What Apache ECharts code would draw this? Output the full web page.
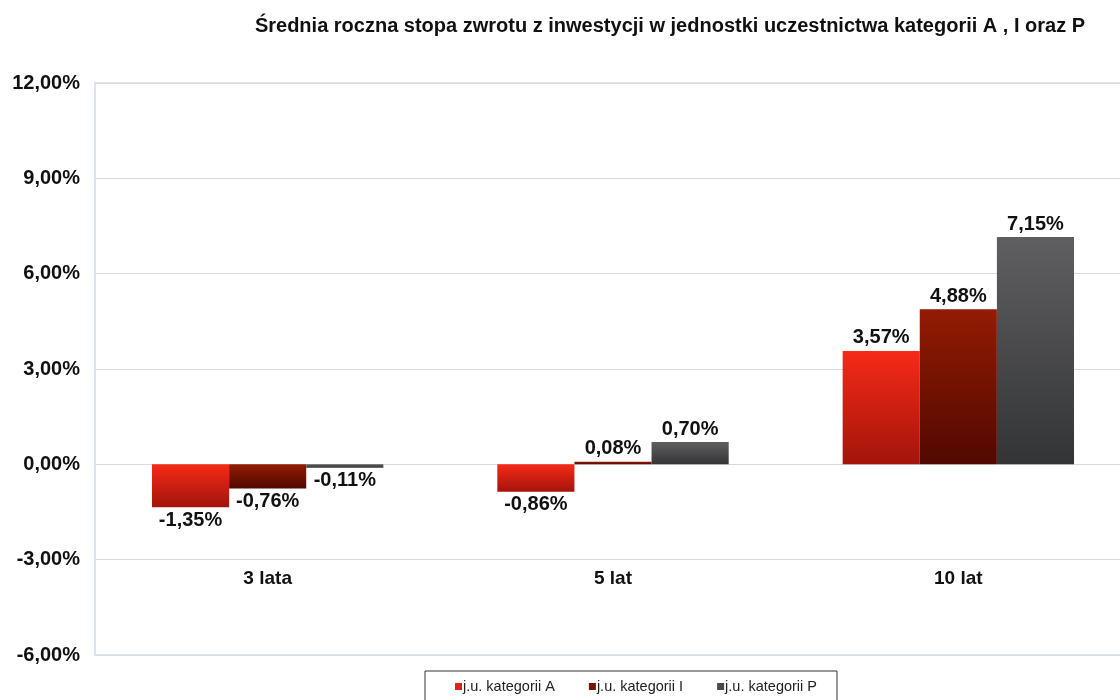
<!DOCTYPE html>
<html>
<head>
<meta charset="utf-8">
<script src="https://cdn.jsdelivr.net/npm/echarts@6/dist/echarts.min.js"></script>
<style>
  html, body { margin: 0; padding: 0; background: #fff; overflow: hidden; }
  #main { width: 1134px; height: 700px; }
</style>
</head>
<body>
<div id="main"></div>
<script>
const categories = ['3 lata', '5 lat', '10 lat']
const seriesNames = ['j.u. kategorii A', 'j.u. kategorii I', 'j.u. kategorii P']
const valuesA = [-1.35, -0.86, 3.57]
const valuesI = [-0.76, 0.08, 4.88]
const valuesP = [-0.11, 0.70, 7.15]

const fmt = v => v.toFixed(2).replace('.', ',') + '%'

const grad = (top, bottom) => new echarts.graphic.LinearGradient(0, 0, 0, 1, [
    {offset: 0, color: top},
    {offset: 1, color: bottom}
])

const styles = [
    {top: '#f62a18', bottom: '#a3140a', legend: '#e8201a'},
    {top: '#921c02', bottom: '#520800', legend: '#7a1400'},
    {top: '#5f5f61', bottom: '#333436', legend: '#4a4a4c'}
]

// wykres jest szerszy niz okno - prawa krawedz ucieta jak w oryginale
let myChart = echarts.init(document.getElementById('main'))

const makeSeries = (name, data, st) => ({
    name: name,
    type: 'bar',
    barGap: '0%',
    barCategoryGap: '33%',
    itemStyle: {color: grad(st.top, st.bottom)},
    data: data.map(v => ({
        value: v,
        label: {position: v < 0 ? 'bottom' : 'top'}
    })),
    label: {
        show: true,
        formatter: p => fmt(p.value),
        fontFamily: 'Liberation Sans, Arial',
        fontWeight: 'bold',
        fontSize: 20,
        color: '#111',
        distance: 3
    }
})

let option = {
    backgroundColor: '#fff',
    animation: false,
    title: {
        text: 'Średnia roczna stopa zwrotu z inwestycji w jednostki uczestnictwa kategorii A , I oraz P',
        left: 665,
        textAlign: 'center',
        top: 11,
        textStyle: {
            fontFamily: 'Liberation Sans, Arial',
            fontWeight: 'bold',
            fontSize: 20,
            color: '#111'
        }
    },
    legend: {
        bottom: -10,
        left: 425,
        itemWidth: 7,
        itemHeight: 7,
        itemGap: 34,
        padding: [8, 20, 16, 30],
        borderColor: '#333',
        borderWidth: 1,
        icon: 'rect',
        textStyle: {fontFamily: 'Liberation Sans, Arial', fontSize: 14.5, color: '#222', padding: [0, 0, 0, -4]},
        data: seriesNames.map((n, i) => ({name: n, itemStyle: {color: styles[i].legend}}))
    },
    grid: {
        left: 95,
        top: 83,
        right: 3,
        bottom: 45,
        show: true,
        borderColor: '#dde3ee',
        borderWidth: 2,
        backgroundColor: '#fff'
    },
    xAxis: {
        type: 'category',
        data: categories,
        position: 'bottom',
        offset: -92,
        axisLine: {show: false},
        axisTick: {show: false},
        axisLabel: {
            margin: 6,
            fontFamily: 'Liberation Sans, Arial',
            fontWeight: 'bold',
            fontSize: 19,
            color: '#111'
        }
    },
    yAxis: {
        type: 'value',
        min: -6,
        max: 12,
        interval: 3,
        axisLine: {show: false},
        axisTick: {show: false},
        splitLine: {lineStyle: {color: '#d9d9d9', width: 1}},
        axisLabel: {
            formatter: v => fmt(v),
            margin: 15,
            fontFamily: 'Liberation Sans, Arial',
            fontWeight: 'bold',
            fontSize: 20,
            color: '#111'
        }
    },
    series: [
        makeSeries(seriesNames[0], valuesA, styles[0]),
        makeSeries(seriesNames[1], valuesI, styles[1]),
        makeSeries(seriesNames[2], valuesP, styles[2])
    ]
}

myChart.setOption(option)
</script>
</body>
</html>
